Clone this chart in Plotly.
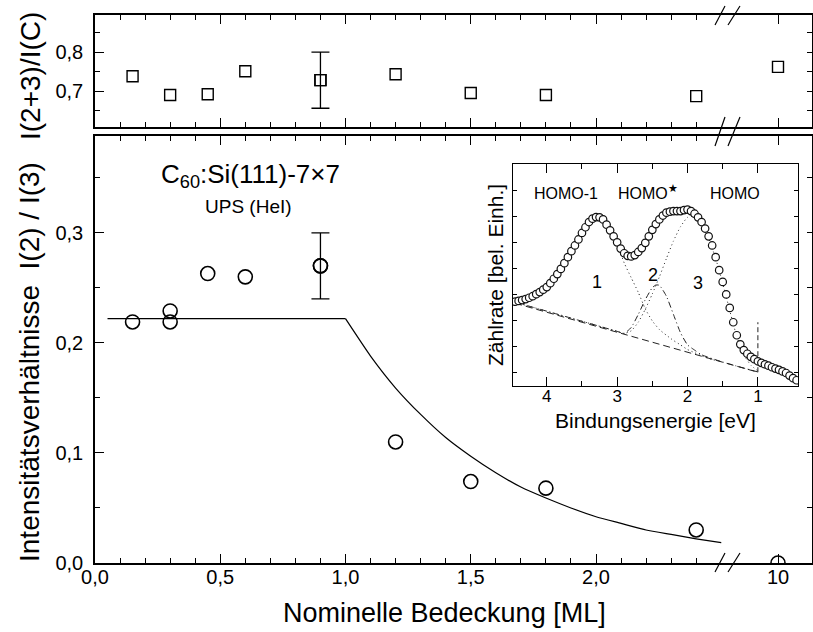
import plotly.graph_objects as go

# ---------------- data ----------------
# top panel: I(2+3)/I(C)
cov_top = [0.15, 0.3, 0.45, 0.6, 0.9, 1.2, 1.5, 1.8, 2.4, 10]
ratio_top = [0.738, 0.690, 0.692, 0.751, 0.728, 0.743, 0.695, 0.690, 0.687, 0.762]
top_err_index = 4
top_err = 0.072

# bottom panel: I(2)/I(3)
cov_bot = [0.15, 0.3, 0.3, 0.45, 0.6, 0.9, 1.2, 1.5, 1.8, 2.4, 10]
ratio_bot = [0.219, 0.219, 0.229, 0.263, 0.260, 0.270, 0.110, 0.074, 0.068, 0.030, 0.0]
bot_err_index = 5
bot_err = 0.030

# model curve in the bottom panel (plateau + decay)
fit_x = [0.05, 1.0, 1.1, 1.2, 1.3, 1.4, 1.5, 1.6, 1.7, 1.8, 1.9, 2.0, 2.1, 2.2, 2.3, 2.4, 2.5]
fit_y = [0.222, 0.222, 0.188, 0.159, 0.135, 0.114, 0.097, 0.082, 0.069, 0.059, 0.050,
         0.042, 0.036, 0.030, 0.026, 0.022, 0.0185]

# tick labels / positions of the coverage axis
cov_ticks = [0.0, 0.5, 1.0, 1.5, 2.0]
cov_minor = [0.1, 0.2, 0.3, 0.4, 0.6, 0.7, 0.8, 0.9, 1.1, 1.2, 1.3, 1.4,
             1.6, 1.7, 1.8, 1.9, 2.1, 2.2, 2.3, 2.4]
cov_far_tick = [10]

# inset: UPS spectrum
energy = [4.45, 4.40, 4.35, 4.30, 4.25, 4.20, 4.15, 4.10, 4.05, 4.00,
          3.95, 3.90, 3.85, 3.80, 3.75, 3.70, 3.65, 3.60, 3.55, 3.50,
          3.45, 3.40, 3.35, 3.30, 3.25, 3.20, 3.15, 3.10, 3.05, 3.00,
          2.95, 2.90, 2.85, 2.80, 2.75, 2.70, 2.65, 2.60, 2.55, 2.50,
          2.45, 2.40, 2.35, 2.30, 2.25, 2.20, 2.15, 2.10, 2.05, 2.00,
          1.95, 1.90, 1.85, 1.80, 1.75, 1.70, 1.65, 1.60, 1.55, 1.50,
          1.45, 1.40, 1.35, 1.30, 1.25, 1.20, 1.15, 1.10, 1.05, 1.00,
          0.95, 0.90, 0.85, 0.80, 0.75, 0.70, 0.65, 0.60, 0.55, 0.50,
          0.45]
counts = [3.74, 3.77, 3.80, 3.84, 3.89, 3.95, 4.03, 4.11, 4.20, 4.30,
          4.45, 4.62, 4.80, 5.00, 5.22, 5.45, 5.68, 5.90, 6.13, 6.38,
          6.60, 6.80, 6.93, 6.99, 6.98, 6.90, 6.70, 6.48, 6.25, 6.02,
          5.78, 5.60, 5.50, 5.48, 5.53, 5.65, 5.80, 6.00, 6.25, 6.50,
          6.72, 6.90, 7.05, 7.16, 7.20, 7.22, 7.22, 7.22, 7.26, 7.28,
          7.22, 7.12, 6.98, 6.80, 6.55, 6.25, 5.90, 5.45, 4.95, 4.50,
          4.02, 3.50, 2.95, 2.45, 2.10, 1.88, 1.74, 1.62, 1.53, 1.45,
          1.39, 1.33, 1.28, 1.22, 1.17, 1.12, 1.06, 1.00, 0.90, 0.80,
          0.72]

bg_x = [4.45, 1.0]
bg_y = [3.68, 1.03]
edge_x = [1.0, 1.0]
edge_y = [1.03, 2.95]

p1_x = [4.45, 4.3, 4.1, 3.9, 3.7, 3.5, 3.4, 3.3, 3.2, 3.1, 3.0, 2.9, 2.8, 2.7, 2.6,
        2.5, 2.4, 2.3, 2.2, 2.1, 2.0, 1.9, 1.8, 1.7, 1.6]
p1_y = [3.72, 3.80, 4.08, 4.58, 5.33, 6.30, 6.78, 6.97, 6.88, 6.45, 5.95, 5.23, 4.66,
        4.10, 3.46, 3.00, 2.67, 2.45, 2.25, 2.08, 1.90, 1.78, 1.66, 1.56, 1.48]

p2_x = [4.45, 3.5, 3.0, 2.9, 2.8, 2.7, 2.6, 2.5, 2.45, 2.4, 2.3, 2.2, 2.1, 2.0, 1.9,
        1.8, 1.5, 1.0]
p2_y = [3.72, 2.99, 2.60, 2.52, 2.75, 3.25, 3.82, 4.28, 4.38, 4.37, 3.95, 3.25, 2.55,
        2.08, 1.88, 1.70, 1.42, 1.04]

p3_x = [4.45, 3.5, 3.0, 2.9, 2.8, 2.7, 2.6, 2.5, 2.4, 2.3, 2.2, 2.1, 2.0, 1.9, 1.8,
        1.7, 1.6, 1.5, 1.4, 1.3, 1.2, 1.1, 1.0]
p3_y = [3.72, 2.99, 2.60, 2.52, 2.62, 2.95, 3.45, 4.04, 4.69, 5.40, 6.07, 6.62, 6.98,
        7.02, 6.72, 6.18, 5.40, 4.45, 3.40, 2.40, 1.70, 1.30, 1.08]

energy_ticks = [1, 2, 3, 4]
energy_minor = [1.5, 2.5, 3.5]
count_ticks = [1, 2, 3, 4, 5, 6, 7, 8]

# ---------------- geometry helpers (pixel -> paper) ----------------
W, H = 813, 632
ML, MR, MT, MB = 95, 1, 15, 69
PW, PH = W - ML - MR, H - MT - MB


def px(x):
    return (x - ML) / PW


def py(y):
    return (H - MB - y) / PH


BREAK = px(728)
TOP_DOM = [py(127), 1.0]
BOT_DOM = [0.0, py(136)]

FONT = "Liberation Sans, Arial, sans-serif"
BLACK = "black"

fig = go.Figure()


def split(xs, ys):
    a = [(x, y) for x, y in zip(xs, ys) if x < 5]
    b = [(x, y) for x, y in zip(xs, ys) if x >= 5]
    return ([p[0] for p in a], [p[1] for p in a]), ([p[0] for p in b], [p[1] for p in b])


sq = dict(symbol="square-open", size=11, color=BLACK, line=dict(width=1.4, color=BLACK))
ci = dict(symbol="circle-open", size=14, color=BLACK, line=dict(width=1.6, color=BLACK))

# top panel
(ta_x, ta_y), (tb_x, tb_y) = split(cov_top, ratio_top)
fig.add_trace(go.Scatter(x=ta_x, y=ta_y, mode="markers", marker=sq, xaxis="x", yaxis="y"))
fig.add_trace(go.Scatter(x=tb_x, y=tb_y, mode="markers", marker=sq, xaxis="x2", yaxis="y4"))
fig.add_trace(go.Scatter(x=[cov_top[top_err_index]], y=[ratio_top[top_err_index]], mode="markers",
                         marker=sq, xaxis="x", yaxis="y",
                         error_y=dict(type="constant", value=top_err, color=BLACK,
                                      thickness=1.3, width=9)))

# bottom panel: model curve (plateau straight, decay smooth)
fig.add_trace(go.Scatter(x=fit_x[:2], y=fit_y[:2], mode="lines", line=dict(color=BLACK, width=1.2),
                         xaxis="x3", yaxis="y2"))
fig.add_trace(go.Scatter(x=fit_x[1:], y=fit_y[1:], mode="lines",
                         line=dict(color=BLACK, width=1.2, shape="spline", smoothing=0.5),
                         xaxis="x3", yaxis="y2"))
(ba_x, ba_y), (bb_x, bb_y) = split(cov_bot, ratio_bot)
fig.add_trace(go.Scatter(x=ba_x, y=ba_y, mode="markers", marker=ci, xaxis="x3", yaxis="y2"))
fig.add_trace(go.Scatter(x=bb_x, y=bb_y, mode="markers", marker=ci, xaxis="x4", yaxis="y5"))
fig.add_trace(go.Scatter(x=[cov_bot[bot_err_index]], y=[ratio_bot[bot_err_index]], mode="markers",
                         marker=ci, xaxis="x3", yaxis="y2",
                         error_y=dict(type="constant", value=bot_err, color=BLACK,
                                      thickness=1.3, width=9)))

# inset
thin = "#222"
fig.add_trace(go.Scatter(x=bg_x, y=bg_y, mode="lines", line=dict(color=thin, width=1, dash="7px,4px"),
                         xaxis="x5", yaxis="y3"))
fig.add_trace(go.Scatter(x=edge_x, y=edge_y, mode="lines", line=dict(color=thin, width=1, dash="5px,3px"),
                         xaxis="x5", yaxis="y3"))
fig.add_trace(go.Scatter(x=p1_x, y=p1_y, mode="lines",
                         line=dict(color=thin, width=1, dash="1px,3px", shape="spline", smoothing=0.5),
                         xaxis="x5", yaxis="y3"))
fig.add_trace(go.Scatter(x=p3_x, y=p3_y, mode="lines",
                         line=dict(color=thin, width=1, dash="1px,3px", shape="spline", smoothing=0.5),
                         xaxis="x5", yaxis="y3"))
fig.add_trace(go.Scatter(x=p2_x, y=p2_y, mode="lines",
                         line=dict(color=thin, width=1, dash="6px,3px,1px,3px", shape="spline", smoothing=0.5),
                         xaxis="x5", yaxis="y3"))
fig.add_trace(go.Scatter(x=energy, y=counts, mode="markers",
                         marker=dict(symbol="circle", size=7.5, color="white",
                                     line=dict(width=1.2, color="#111")),
                         xaxis="x5", yaxis="y3"))

# ---------------- axes ----------------
tickfont = dict(family=FONT, size=20, color=BLACK)


def base(**kw):
    d = dict(showline=True, linecolor=BLACK, linewidth=1.5, ticks="inside", ticklen=9,
             tickwidth=1.3, tickcolor=BLACK, showgrid=False, zeroline=False,
             tickfont=tickfont, automargin=False)
    d.update(kw)
    return d


minor_x = dict(ticks="inside", ticklen=5, tickwidth=1.2, tickcolor=BLACK, tickvals=cov_minor, showgrid=False)
minor_y = dict(ticks="inside", ticklen=5, tickwidth=1.2, tickcolor=BLACK, dtick=0.05, showgrid=False)

fig.update_layout(
    template="none",
    xaxis=base(domain=[0, BREAK], range=[0, (728 - 95) / 250.5], anchor="y", tickvals=cov_ticks,
               minor=minor_x, showticklabels=False, mirror="ticks"),
    xaxis2=base(domain=[BREAK, 1], range=[9.0, 10.68], anchor="y4", tickvals=cov_far_tick,
                showticklabels=False, mirror="ticks"),
    yaxis=base(domain=TOP_DOM, range=[0.608, 0.895], anchor="x", tick0=0, dtick=0.1,
               tickformat=".1f", minor=minor_y, ticklabelstandoff=6),
    yaxis4=base(domain=TOP_DOM, range=[0.608, 0.895], anchor="x2", side="right", tick0=0, dtick=0.1,
                minor=minor_y, showticklabels=False, ticklen=5),
    xaxis3=base(domain=[0, BREAK], range=[0, (728 - 95) / 250.5], anchor="y2", tickvals=cov_ticks,
                tickformat=".1f", minor=minor_x, mirror="ticks"),
    xaxis4=base(domain=[BREAK, 1], range=[9.0, 10.68], anchor="y5", tickvals=cov_far_tick,
                mirror="ticks"),
    yaxis2=base(domain=BOT_DOM, range=[0, 0.388], anchor="x3", tick0=0, dtick=0.1,
                tickformat=".1f", minor=minor_y, ticklabelstandoff=6),
    yaxis5=base(domain=BOT_DOM, range=[0, 0.388], anchor="x4", side="right", tick0=0, dtick=0.1,
                minor=minor_y, showticklabels=False, ticklen=5),
    xaxis5=base(domain=[px(513), px(798)], range=[4.48, 0.43], anchor="y3", tickvals=energy_ticks,
                minor=dict(ticks="inside", ticklen=5, tickwidth=1, tickcolor=BLACK, tickvals=energy_minor,
                           showgrid=False),
                linewidth=1.2, tickwidth=1.1, mirror="ticks",
                tickfont=dict(family=FONT, size=17, color=BLACK)),
    yaxis3=base(domain=[py(386), py(164)], range=[0.5, 9.03], anchor="x5", tickvals=count_ticks,
                showticklabels=False, ticklen=4, tickwidth=1, linewidth=1.2, mirror="ticks"),
)
try:
    fig.layout.xaxis5.ticklabelstandoff = -6
    fig.layout.xaxis3.ticklabelstandoff = -5
    fig.layout.xaxis4.ticklabelstandoff = -5
except Exception:
    fig.layout.xaxis5.ticklabelstandoff = 0

# ---------------- text ----------------
ann = []
ann.append(dict(text="Intensitätsverhältnisse\u00a0\u00a0I(2) / I(3)", x=px(30), y=py(362), xref="paper", yref="paper",
                textangle=-90, showarrow=False, font=dict(family=FONT, size=28, color=BLACK),
                xanchor="center", yanchor="middle"))
ann.append(dict(text="I(2+3)/I(C)", x=px(31), y=py(76), xref="paper", yref="paper",
                textangle=-90, showarrow=False, font=dict(family=FONT, size=28, color=BLACK),
                xanchor="center", yanchor="middle"))
ann.append(dict(text="Nominelle Bedeckung [ML]", x=px(444), y=py(613), xref="paper", yref="paper",
                showarrow=False, font=dict(family=FONT, size=27, color=BLACK),
                xanchor="center", yanchor="middle"))
ann.append(dict(text="C<sub>60</sub>:Si(111)-7×7", x=px(250), y=py(175), xref="paper", yref="paper",
                showarrow=False, font=dict(family=FONT, size=26, color=BLACK),
                xanchor="center", yanchor="middle"))
ann.append(dict(text="UPS (HeI)", x=px(248), y=py(206), xref="paper", yref="paper",
                showarrow=False, font=dict(family=FONT, size=19, color=BLACK),
                xanchor="center", yanchor="middle"))
ann.append(dict(text="Zählrate [bel. Einh.]", x=px(495), y=py(275), xref="paper", yref="paper",
                textangle=-90, showarrow=False, font=dict(family=FONT, size=21, color=BLACK),
                xanchor="center", yanchor="middle"))
ann.append(dict(text="Bindungsenergie [eV]", x=px(655), y=py(420), xref="paper", yref="paper",
                showarrow=False, font=dict(family=FONT, size=21, color=BLACK),
                xanchor="center", yanchor="middle"))
inset_labels = [("HOMO-1", 3.73, 7.9, 16), ("HOMO<sup>★</sup>", 2.56, 7.95, 16), ("HOMO", 1.33, 7.9, 16),
                ("1", 3.29, 4.49, 18), ("2", 2.49, 4.75, 18), ("3", 1.85, 4.44, 18)]
for t, xv, yv, fs in inset_labels:
    ann.append(dict(text=t, x=xv, y=yv, xref="x5", yref="y3", showarrow=False,
                    font=dict(family=FONT, size=fs, color=BLACK), xanchor="center", yanchor="middle"))

# ---------------- axis-break marks ----------------
shapes = []


def slash(x0, y0, x1, y1):
    shapes.append(dict(type="line", xref="paper", yref="paper", x0=px(x0), y0=py(y0), x1=px(x1), y1=py(y1),
                       line=dict(color=BLACK, width=1.2)))


for (ya, yb) in [(25, 6), (146, 117), (572, 553)]:
    slash(715, ya, 725, yb)
    slash(728, ya, 740, yb)

fig.update_layout(
    annotations=ann, shapes=shapes,
    width=W, height=H, margin=dict(l=ML, r=MR, t=MT, b=MB, pad=0, autoexpand=False),
    paper_bgcolor="white", plot_bgcolor="white", showlegend=False,
    separators=",.", font=dict(family=FONT, color=BLACK),
)

fig.write_html("out.html")
